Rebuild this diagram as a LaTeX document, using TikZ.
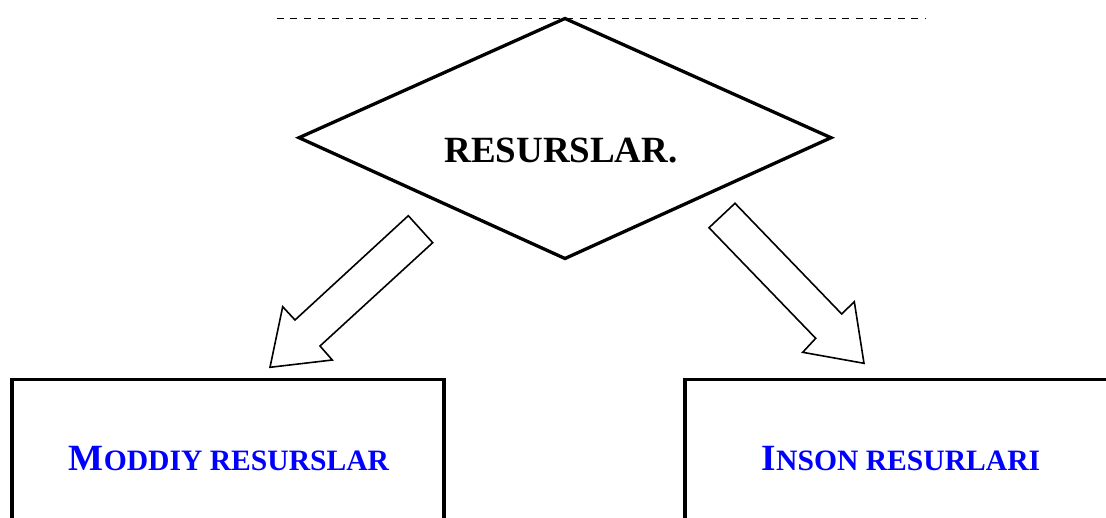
\documentclass[tikz,border=0pt]{standalone}
\usepackage{fontspec}
\setmainfont{Liberation Serif}
\definecolor{pureblue}{RGB}{0,0,255}
\tikzset{
  thickline/.style={line width=3.3pt, line join=miter},
  blockarrow/.style={line width=1.6pt, line join=miter, fill=white},
  bigbox/.style={line width=3.3pt},
  title/.style={anchor=base, inner sep=0pt, font=\bfseries\fontsize{37}{40}\selectfont},
  boxlabel/.style={anchor=base, inner sep=0pt, text=pureblue, font=\bfseries},
}
\newcommand{\bigS}[1]{{\fontsize{37}{40}\selectfont #1}}
\newcommand{\smS}[1]{{\fontsize{29.6}{32}\selectfont #1}}
\begin{document}
\begin{tikzpicture}[x=1pt,y=-1pt]
\useasboundingbox (0,0) rectangle (1106,517);
\clip (0,0) rectangle (1106,517);
% dashed guide line
\coordinate (dl) at (276.5,18.3);
\coordinate (dr) at (926,18.3);
\draw[line width=1.6pt, dash pattern=on 7pt off 6.8pt] (dl) -- (dr);
% diamond
\coordinate (dt) at (565,18.5);
\coordinate (dlft) at (299,137.7);
\coordinate (drt) at (831,137.7);
\coordinate (db) at (565,258.5);
\draw[thickline] (dt) -- (drt) -- (db) -- (dlft) -- cycle;
\node[title] (res) at (561,162.7) {RESURSLAR.};
% block arrows
\draw[blockarrow] (408.3,215.7) -- (432.7,242.7) -- (320,346) -- (332.3,360) -- (270,367.3) -- (282.7,306.7) -- (295,320) -- cycle;
\draw[blockarrow] (735,203.3) -- (709,227.7) -- (815.7,338.3) -- (802.7,352.3) -- (864,363.3) -- (854.3,301.7) -- (841.7,314) -- cycle;
% boxes
\draw[bigbox] (12,379.5) rectangle (444,560);
\draw[bigbox] (685,379.5) rectangle (1130,560);
\node[boxlabel] (mod) at (229,470) {\bigS{M}\smS{ODDIY RESURSLAR}};
\node[boxlabel] (ins) at (901,470) {\bigS{I}\smS{NSON RESURLARI}};
\end{tikzpicture}
\end{document}
